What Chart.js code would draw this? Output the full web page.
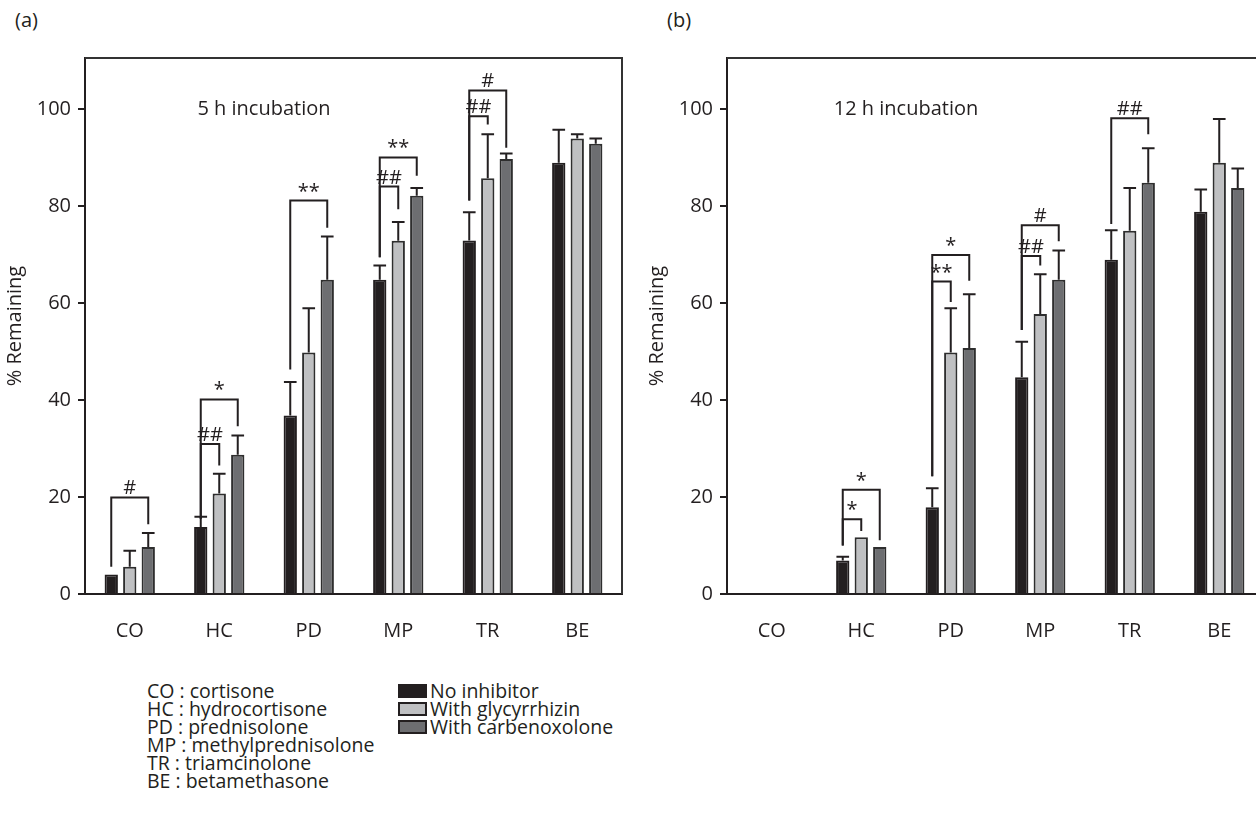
<!DOCTYPE html>
<html>
<head>
<meta charset="utf-8">
<script src="https://cdn.jsdelivr.net/npm/chart.js@4.4.1/dist/chart.umd.min.js"></script>
<style>
  html, body { margin: 0; padding: 0; background: #fff; overflow: hidden; width: 1256px; height: 816px; }
  body { position: relative; font-family: "Open Sans", "Noto Sans", sans-serif; color: #231f20; }
  canvas { position: absolute; top: 0; }
  #cA { left: 0; }
  #cB { left: 642px; }
  .plabel { position: absolute; font-size: 20px; line-height: 22px; }
  #abbr { position: absolute; left: 147px; top: 682px; font-size: 19.5px; line-height: 18px; white-space: pre; }
  #leg { position: absolute; left: 398px; top: 682px; font-size: 19.5px; line-height: 18px; }
  #leg div { display: flex; align-items: center; height: 18px; }
  #leg span.box { display: inline-block; width: 29px; height: 14px; box-sizing: border-box; border: 2px solid #231f20; margin-right: 3px; }
</style>
</head>
<body>
<div class="plabel" style="left:15px;top:9px">(a)</div>
<div class="plabel" style="left:667px;top:9px">(b)</div>
<canvas id="cA" width="640" height="660"></canvas>
<canvas id="cB" width="640" height="660"></canvas>
<div id="abbr"></div>
<div id="leg"></div>
<script>
// ---------- data ----------
const categories = ['CO', 'HC', 'PD', 'MP', 'TR', 'BE'];
const categoryNames = ['cortisone', 'hydrocortisone', 'prednisolone', 'methylprednisolone', 'triamcinolone', 'betamethasone'];
const seriesNames = ['No inhibitor', 'With glycyrrhizin', 'With carbenoxolone'];
const yTicks = [0, 20, 40, 60, 80, 100];
const panelTitles = ['5 h incubation', '12 h incubation'];

// (a) 5 h incubation
const a_noInhibitor   = [4.0, 13.8, 36.8, 64.8, 72.9, 88.9];
const a_noInhibitorSD = [0, 2.1, 6.9, 2.9, 5.8, 6.8];
const a_glycyrrhizin   = [5.6, 20.7, 49.8, 72.8, 85.7, 93.9];
const a_glycyrrhizinSD = [3.3, 4.1, 9.1, 3.9, 9.1, 0.9];
const a_carbenoxolone   = [9.7, 28.7, 64.8, 82.1, 89.7, 92.8];
const a_carbenoxoloneSD = [2.9, 4.0, 8.9, 1.6, 1.1, 1.1];
// brackets: [category index, compared series, bracket level, left leg end, right leg end, label]
const a_brackets = [
  [0, 2, 19.9, 5.6, 14.4, '#'],
  [1, 1, 30.9, 15.5, 26.5, '##'],
  [1, 2, 40.1, 15.5, 34.6, '*'],
  [2, 2, 81.1, 46.3, 75.5, '**'],
  [3, 1, 84.0, 69.4, 79.3, '##'],
  [3, 2, 90.0, 69.4, 86.2, '**'],
  [4, 1, 98.5, 81.1, 96.8, '##'],
  [4, 2, 103.8, 81.1, 92.0, '#']
];

// (b) 12 h incubation
const b_noInhibitor   = [null, 6.9, 17.9, 44.7, 68.9, 78.8];
const b_noInhibitorSD = [0, 0.8, 3.9, 7.3, 6.1, 4.6];
const b_glycyrrhizin   = [null, 11.7, 49.8, 57.7, 74.9, 88.9];
const b_glycyrrhizinSD = [0, 0, 9.1, 8.2, 8.8, 9.0];
const b_carbenoxolone   = [null, 9.7, 50.7, 64.8, 84.8, 83.7];
const b_carbenoxoloneSD = [0, 0, 11.1, 6.0, 7.1, 4.0];
const b_brackets = [
  [1, 1, 15.4, 10.0, 13.0, '*'],
  [1, 2, 21.5, 10.0, 11.1, '*'],
  [2, 1, 64.4, 24.3, 60.2, '**'],
  [2, 2, 69.9, 24.3, 64.6, '*'],
  [3, 1, 69.7, 54.4, 67.7, '##'],
  [3, 2, 76.0, 54.4, 72.7, '#'],
  [4, 2, 98.1, 76.3, 94.8, '##']
];

// ---------- styles ----------
const INK = '#231f20';
const fills = ['#231f20', '#bfc0c2', '#6d6e71'];
const FONT = '"Open Sans", "Noto Sans", sans-serif';
const FS = 20;

// HTML legend + abbreviations
document.getElementById('abbr').textContent =
  categories.map((c, i) => c + ' : ' + categoryNames[i]).join('\n');
const leg = document.getElementById('leg');
seriesNames.forEach((n, i) => {
  const d = document.createElement('div');
  const b = document.createElement('span');
  b.className = 'box';
  b.style.background = fills[i];
  d.appendChild(b);
  d.appendChild(document.createTextNode(n));
  leg.appendChild(d);
});

const decoPlugin = {
  id: 'deco',
  afterDatasetsDraw(chart, args, opts) {
    const ctx = chart.ctx;
    const ys = chart.scales.y, xs = chart.scales.x;
    const ca = chart.chartArea;
    ctx.save();
    // frame top + right
    ctx.strokeStyle = '#333';
    ctx.lineWidth = 2;
    ctx.beginPath();
    ctx.moveTo(ca.left, ca.top);
    ctx.lineTo(ca.right, ca.top);
    ctx.lineTo(ca.right, ca.bottom);
    ctx.stroke();
    // error bars
    ctx.strokeStyle = INK;
    ctx.lineWidth = 2;
    opts.sds.forEach((sd, di) => {
      const meta = chart.getDatasetMeta(di);
      const vals = chart.data.datasets[di].data;
      meta.data.forEach((el, j) => {
        if (vals[j] == null || !sd[j]) return;
        const yt = ys.getPixelForValue(vals[j] + sd[j]);
        const w = el.width * 0.95;
        ctx.beginPath();
        ctx.moveTo(el.x, el.y);
        ctx.lineTo(el.x, yt);
        ctx.moveTo(el.x - w / 2, yt);
        ctx.lineTo(el.x + w / 2, yt);
        ctx.stroke();
      });
    });
    // significance brackets
    ctx.fillStyle = INK;
    ctx.font = FS + 'px ' + FONT;
    ctx.textAlign = 'center';
    ctx.textBaseline = 'alphabetic';
    opts.brackets.forEach(([c, s, top, lb, rb, lab]) => {
      const xl = chart.getDatasetMeta(0).data[c].x;
      const xr = chart.getDatasetMeta(s).data[c].x;
      const yT = ys.getPixelForValue(top);
      ctx.beginPath();
      ctx.moveTo(xl, ys.getPixelForValue(lb));
      ctx.lineTo(xl, yT);
      ctx.lineTo(xr, yT);
      ctx.lineTo(xr, ys.getPixelForValue(rb));
      ctx.stroke();
      ctx.fillText(lab, (xl + xr) / 2, yT - 3);
    });
    // panel title
    ctx.textBaseline = 'middle';
    ctx.font = FS + 'px ' + FONT;
    const tx = (xs.getPixelForValue(1) + xs.getPixelForValue(2)) / 2;
    ctx.fillText(opts.title, tx, ys.getPixelForValue(100));
    ctx.restore();
  }
};

function makeChart(id, series, sds, brackets, title) {
  return new Chart(document.getElementById(id), {
    type: 'bar',
    data: {
      labels: categories,
      datasets: series.map((d, i) => ({
        label: seriesNames[i],
        data: d,
        backgroundColor: fills[i],
        borderColor: i === 0 ? INK : '#2e2e2e',
        borderWidth: 2,
        borderSkipped: 'bottom',
        categoryPercentage: 0.62,
        barPercentage: 0.72
      }))
    },
    options: {
      responsive: false,
      animation: false,
      devicePixelRatio: 1,
      layout: { padding: { top: 58, right: 18, left: 0, bottom: 0 } },
      plugins: {
        legend: { display: false },
        tooltip: { enabled: false },
        deco: { sds, brackets, title }
      },
      scales: {
        x: {
          type: 'category',
          offset: true,
          grid: { display: false, drawTicks: false },
          border: { display: true, color: INK, width: 2 },
          ticks: { color: INK, font: { family: FONT, size: FS }, padding: 25, maxRotation: 0 },
          afterFit(s) { s.height = 66; }
        },
        y: {
          min: 0,
          max: 110.5,
          afterBuildTicks(s) { s.ticks = yTicks.map(v => ({ value: v })); },
          grid: { drawOnChartArea: false, drawTicks: true, tickLength: 7, color: INK, lineWidth: 2 },
          border: { display: true, color: INK, width: 2 },
          ticks: { color: INK, font: { family: FONT, size: FS }, padding: 7 },
          title: { display: true, text: '% Remaining', color: INK, font: { family: FONT, size: FS }, padding: { top: 3, bottom: 0 } },
          afterFit(s) { s.width = 85; }
        }
      }
    },
    plugins: [decoPlugin]
  });
}

makeChart('cA', [a_noInhibitor, a_glycyrrhizin, a_carbenoxolone],
  [a_noInhibitorSD, a_glycyrrhizinSD, a_carbenoxoloneSD], a_brackets, panelTitles[0]);
makeChart('cB', [b_noInhibitor, b_glycyrrhizin, b_carbenoxolone],
  [b_noInhibitorSD, b_glycyrrhizinSD, b_carbenoxoloneSD], b_brackets, panelTitles[1]);
</script>
</body>
</html>
